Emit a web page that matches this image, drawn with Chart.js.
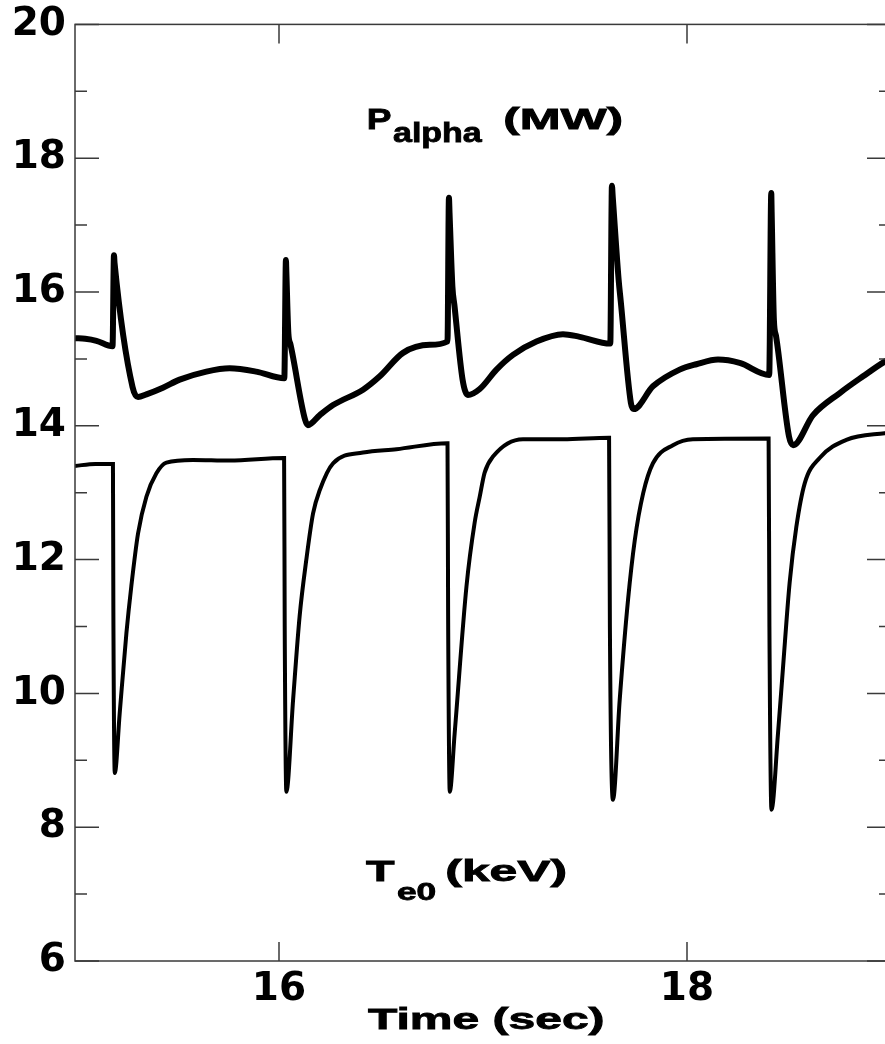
<!DOCTYPE html>
<html>
<head>
<meta charset="utf-8">
<script src="https://cdn.jsdelivr.net/npm/chart.js@4/dist/chart.umd.min.js"></script>
<style>
    html, body { margin: 0; padding: 0; background: #fff; overflow: hidden; }
    canvas { display: block; }
</style>
</head>
<body>
<canvas id="chart" width="900" height="1044"></canvas>
<script>

// P_alpha (MW), thick upper trace
const pTime = [15.000, 15.050, 15.105, 15.184, 15.191, 15.194, 15.282, 15.309,
    15.350, 15.431, 15.513, 15.644, 15.758, 15.889, 16.026, 16.034, 16.036, 16.046,
    16.056, 16.128, 16.142, 16.200, 16.265, 16.412, 16.494, 16.608, 16.739, 16.826,
    16.833, 16.836, 16.850, 16.860, 16.900, 16.926, 16.984, 17.066, 17.147, 17.262,
    17.392, 17.474, 17.624, 17.632, 17.636, 17.665, 17.675, 17.725, 17.739, 17.833,
    17.964, 18.046, 18.152, 18.258, 18.403, 18.413, 18.415, 18.426, 18.436, 18.500,
    18.520, 18.618, 18.749, 18.863, 18.969, 19.000];

const pAlpha = [15.31, 15.30, 15.27, 15.19, 16.55, 16.43, 14.58, 14.43,
    14.47, 14.57, 14.69, 14.81, 14.86, 14.81, 14.71, 16.48, 16.30, 15.38,
    15.22, 14.09, 14.01, 14.16, 14.31, 14.54, 14.74, 15.09, 15.21, 15.26,
    17.41, 17.18, 16.08, 15.80, 14.69, 14.46, 14.55, 14.84, 15.06, 15.26,
    15.37, 15.33, 15.23, 17.59, 17.42, 16.18, 15.87, 14.34, 14.25, 14.59,
    14.84, 14.92, 14.99, 14.94, 14.76, 17.48, 17.19, 15.58, 15.35, 13.84,
    13.71, 14.16, 14.49, 14.74, 14.96, 15.01];

// T_e0 (keV), thinner lower trace
const teTime = [15.000, 15.100, 15.186, 15.188, 15.195, 15.219, 15.252, 15.276, 15.309, 15.350,
    15.399, 15.448, 15.578, 15.758, 16.025, 16.028, 16.036, 16.069, 16.101, 16.134,
    16.167, 16.200, 16.265, 16.412, 16.576, 16.826, 16.829, 16.837, 16.861, 16.919,
    16.959, 16.984, 17.008, 17.049, 17.196, 17.392, 17.618, 17.622, 17.637, 17.670,
    17.711, 17.744, 17.785, 17.833, 17.931, 18.029, 18.400, 18.404, 18.414, 18.446,
    18.471, 18.503, 18.536, 18.577, 18.650, 18.781, 18.969, 19.000];

const te0 = [13.40, 13.43, 13.43, 11.30, 8.81, 9.70, 10.90, 11.60, 12.39, 12.94,
    13.29, 13.45, 13.49, 13.48, 13.52, 11.00, 8.53, 9.90, 11.15, 12.00,
    12.69, 13.04, 13.44, 13.60, 13.65, 13.74, 11.20, 8.53, 9.40, 11.60,
    12.55, 12.94, 13.30, 13.54, 13.80, 13.80, 13.82, 11.00, 8.41, 9.90,
    11.40, 12.29, 12.99, 13.44, 13.71, 13.80, 13.81, 11.00, 8.26, 9.40,
    10.40, 11.65, 12.49, 13.14, 13.52, 13.79, 13.89, 13.90];

const xTicks = [16, 18];
const yMajor = [6, 8, 10, 12, 14, 16, 18, 20];
const yMinor = [7, 9, 11, 13, 15, 17, 19];

const xTitle = 'Time (sec)';

const tickFont = { family: 'DejaVu Sans', weight: 'bold', size: 39 };

// text stretched so its ink fills [left, right], like the old plot fonts
function fitText(ctx, str, left, right, base, size) {

    ctx.font = 'bold ' + size + 'px "Liberation Sans", Arial, sans-serif';

    const m = ctx.measureText(str);

    const ink = m.actualBoundingBoxLeft + m.actualBoundingBoxRight;

    const sx = (right - left) / ink;

    ctx.save();
    ctx.translate(left + m.actualBoundingBoxLeft * sx, base);
    ctx.scale(sx, 1);
    ctx.textAlign = 'left';
    ctx.textBaseline = 'alphabetic';
    ctx.fillStyle = '#000';
    ctx.strokeStyle = '#000';
    ctx.lineWidth = 0.8;
    ctx.fillText(str, 0, 0);
    ctx.strokeText(str, 0, 0);
    ctx.restore();
}

const framePlugin = {

    id: 'frame',

    afterDatasetsDraw(chart) {

        const ctx = chart.ctx;
        const a = chart.chartArea;
        const xs = chart.scales.x;
        const ys = chart.scales.y;

        ctx.save();
        ctx.strokeStyle = '#3a3a3a';
        ctx.lineWidth = 1.5;

        ctx.strokeRect(a.left, a.top, a.right - a.left, a.bottom - a.top);

        ctx.beginPath();

        ys.ticks.forEach(t => {
            const y = ys.getPixelForValue(t.value);
            const len = yMajor.includes(t.value) ? 24 : 12;
            ctx.moveTo(a.left, y);
            ctx.lineTo(a.left + len, y);
            ctx.moveTo(a.right - len, y);
            ctx.lineTo(a.right, y);
        });

        xs.ticks.forEach(t => {
            const x = xs.getPixelForValue(t.value);
            ctx.moveTo(x, a.bottom);
            ctx.lineTo(x, a.bottom - 19);
            ctx.moveTo(x, a.top);
            ctx.lineTo(x, a.top + 19);
        });

        ctx.stroke();
        ctx.restore();

        // curve labels and axis title
        fitText(ctx, 'P', 368, 391, 128.5, 29);
        fitText(ctx, 'alpha', 393, 483, 141.5, 27);
        fitText(ctx, '(MW)', 505, 622, 128.5, 29);

        fitText(ctx, 'T', 366, 395, 881, 29);
        fitText(ctx, 'e0', 397, 435, 900, 23);
        fitText(ctx, '(keV)', 447, 566, 881, 29);

        fitText(ctx, xTitle, 368, 603, 1029, 30);
    }
};

const chart = new Chart(document.getElementById('chart'), {

    type: 'line',

    data: {
        datasets: [
            {
                label: 'P_alpha (MW)',
                data: pTime.map((t, i) => ({ x: t, y: pAlpha[i] })),
                borderColor: '#000',
                borderWidth: 6,
                pointRadius: 0,
                cubicInterpolationMode: 'monotone',
                fill: false
            },
            {
                label: 'T_e0 (keV)',
                data: teTime.map((t, i) => ({ x: t, y: te0[i] })),
                borderColor: '#000',
                borderWidth: 4,
                pointRadius: 0,
                cubicInterpolationMode: 'monotone',
                fill: false
            }
        ]
    },

    options: {

        responsive: false,
        animation: false,
        devicePixelRatio: 1,

        layout: {
            padding: { top: 24, right: 9, left: 0, bottom: 0 }
        },

        plugins: {
            legend: { display: false },
            tooltip: { enabled: false }
        },

        scales: {

            x: {
                type: 'linear',
                min: 15,
                max: 19,
                afterBuildTicks: s => { s.ticks = xTicks.map(v => ({ value: v })); },
                afterFit: s => { s.height = 83; },
                grid: { display: false },
                border: { display: false },
                ticks: {
                    color: '#000',
                    font: tickFont,
                    padding: -3,
                    maxRotation: 0,
                    autoSkip: false
                }
            },

            y: {
                min: 6,
                max: 20,
                afterBuildTicks: s => {
                    s.ticks = yMajor.concat(yMinor).sort((a, b) => a - b).map(v => ({ value: v }));
                },
                afterFit: s => { s.width = 75; },
                grid: { display: false },
                border: { display: false },
                ticks: {
                    color: '#000',
                    font: tickFont,
                    padding: 1,
                    autoSkip: false,
                    callback: v => yMajor.includes(v) ? String(v) : ''
                }
            }
        }
    },

    plugins: [framePlugin]
});

</script>
</body>
</html>
